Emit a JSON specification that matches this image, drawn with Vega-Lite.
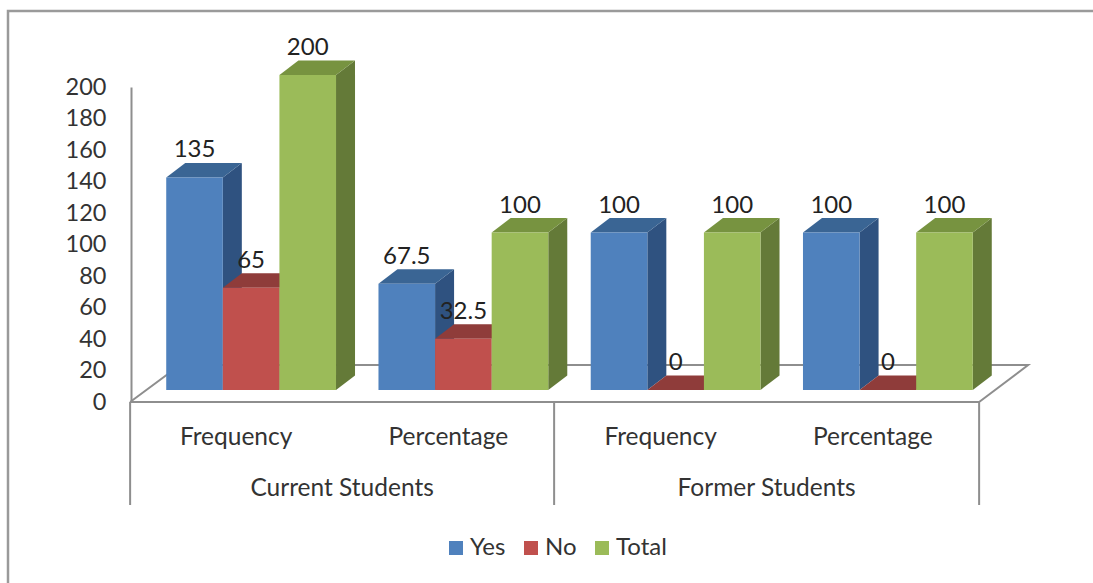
{
"$schema":"https://vega.github.io/schema/vega-lite/v6.json",
"autosize":"none",
"width":1087,"height":574,
"padding":{"left":8,"top":11,"right":-2,"bottom":-2},
"background":"white",
"config":{"view":{"stroke":"#9a9a9a","strokeWidth":2.5},"font":"Lato"},
"datasets":{
"bars":[
{"key":"Current Students|Frequency","series":"Yes","value":135},
{"key":"Current Students|Frequency","series":"No","value":65},
{"key":"Current Students|Frequency","series":"Total","value":200},
{"key":"Current Students|Percentage","series":"Yes","value":67.5},
{"key":"Current Students|Percentage","series":"No","value":32.5},
{"key":"Current Students|Percentage","series":"Total","value":100},
{"key":"Former Students|Frequency","series":"Yes","value":100},
{"key":"Former Students|Frequency","series":"No","value":0},
{"key":"Former Students|Frequency","series":"Total","value":100},
{"key":"Former Students|Percentage","series":"Yes","value":100},
{"key":"Former Students|Percentage","series":"No","value":0},
{"key":"Former Students|Percentage","series":"Total","value":100}
],
"groups":[
{"key":"Current Students|Frequency","group":"Current Students"},
{"key":"Former Students|Frequency","group":"Former Students"}
]},
"layer":[
{"data":{"values":[{"key":"Current Students|Frequency"}]},
 "mark":{"type":"point","shape":"M-121 0 L728 0 M-121 0 L-121 103 M303 0 L303 103 M728 0 L728 103 M-121 0 L-71 -37 L777 -37 L728 0","size":4,"stroke":"#8e8e8e","strokeWidth":2,"opacity":1,"filled":false,"clip":false},
 "encoding":{
  "x":{"field":"key","type":"nominal","title":null,
   "scale":{"domain":["Current Students|Frequency","Current Students|Percentage","Former Students|Frequency","Former Students|Percentage"],"range":[137,986],"paddingInner":0,"paddingOuter":0},
   "axis":{"orient":"bottom","offset":-183,"labelExpr":"split(datum.label,'|')[1]","labelAngle":0,"ticks":false,"grid":false,"domain":false,"labelOffset":-15,"labelPadding":23,"labelFontSize":24.5,"labelColor":"#333333","labelFont":"Lato"}},
  "y":{"datum":0,"type":"quantitative","title":null,
   "scale":{"domain":[0,200],"range":[391,76],"nice":false},
   "axis":{"orient":"left","offset":-123,"values":[0,20,40,60,80,100,120,140,160,180,200],"ticks":false,"grid":false,"domainColor":"#8e8e8e","domainWidth":2,"labelPadding":25,"labelFontSize":23.5,"labelColor":"#333333","labelFont":"Lato"}}
 }},
{"data":{"name":"bars"},
 "mark":{"type":"point","shape":{"expr":"'M28.3 0 L47.3 -14.5 L47.3 ' + (scale('y',0)-scale('y',datum.value)-14.5) + ' L28.3 ' + (scale('y',0)-scale('y',datum.value)) + ' Z'"},"size":4,"filled":true,"opacity":1,"yOffset":-12},
 "encoding":{
  "x":{"field":"key","type":"nominal","title":null},
  "xOffset":{"field":"series","type":"nominal","scale":{"domain":["Yes","No","Total"],"paddingInner":0,"paddingOuter":0.375}},
  "y":{"field":"value","type":"quantitative","title":null},
  "color":{"field":"series","type":"nominal","legend":null,"scale":{"domain":["Yes","No","Total"],"range":["#2f5280","#7d3432","#647a38"]}}
 }},
{"data":{"name":"bars"},
 "mark":{"type":"point","shape":"M-28.3 0 L28.3 0 L47.3 -14.5 L-9.3 -14.5 Z","size":4,"filled":true,"opacity":1,"yOffset":-12},
 "encoding":{
  "x":{"field":"key","type":"nominal","title":null},
  "xOffset":{"field":"series","type":"nominal"},
  "y":{"field":"value","type":"quantitative","title":null},
  "color":{"field":"series","type":"nominal","legend":null,"scale":{"domain":["Yes","No","Total"],"range":["#3a6594","#8f3c3a","#779340"]}}
 }},
{"data":{"name":"bars"},
 "mark":{"type":"bar","yOffset":-12,"y2Offset":-12},
 "encoding":{
  "x":{"field":"key","type":"nominal","title":null},
  "xOffset":{"field":"series","type":"nominal"},
  "y":{"field":"value","type":"quantitative","stack":null,"title":null},
  "y2":{"datum":0},
  "color":{"field":"series","type":"nominal","title":null,
   "scale":{"domain":["Yes","No","Total"],"range":["#4f81bd","#c0504d","#9bbb59"]},
   "legend":{"orient":"none","legendX":436,"legendY":525,"direction":"horizontal","columns":3,"symbolType":"square","symbolSize":196,"symbolStrokeWidth":0,"labelFontSize":24,"labelFont":"Lato","labelColor":"#333333","columnPadding":13,"labelOffset":2}}
 }},
{"data":{"name":"bars"},
 "mark":{"type":"text","fontSize":24,"font":"Lato","color":"#222222","baseline":"middle","align":"center","dy":-39},
 "encoding":{
  "x":{"field":"key","type":"nominal","title":null},
  "xOffset":{"field":"series","type":"nominal"},
  "y":{"field":"value","type":"quantitative","title":null},
  "text":{"field":"value","type":"quantitative"}
 }},
{"data":{"name":"groups"},
 "mark":{"type":"text","fontSize":24.5,"font":"Lato","color":"#333333","baseline":"middle","align":"center","dx":91,"dy":87},
 "encoding":{
  "x":{"field":"key","type":"nominal","title":null},
  "y":{"datum":0,"type":"quantitative","title":null},
  "text":{"field":"group","type":"nominal"}
 }}
],
"resolve":{"scale":{"color":"independent"}}
}
